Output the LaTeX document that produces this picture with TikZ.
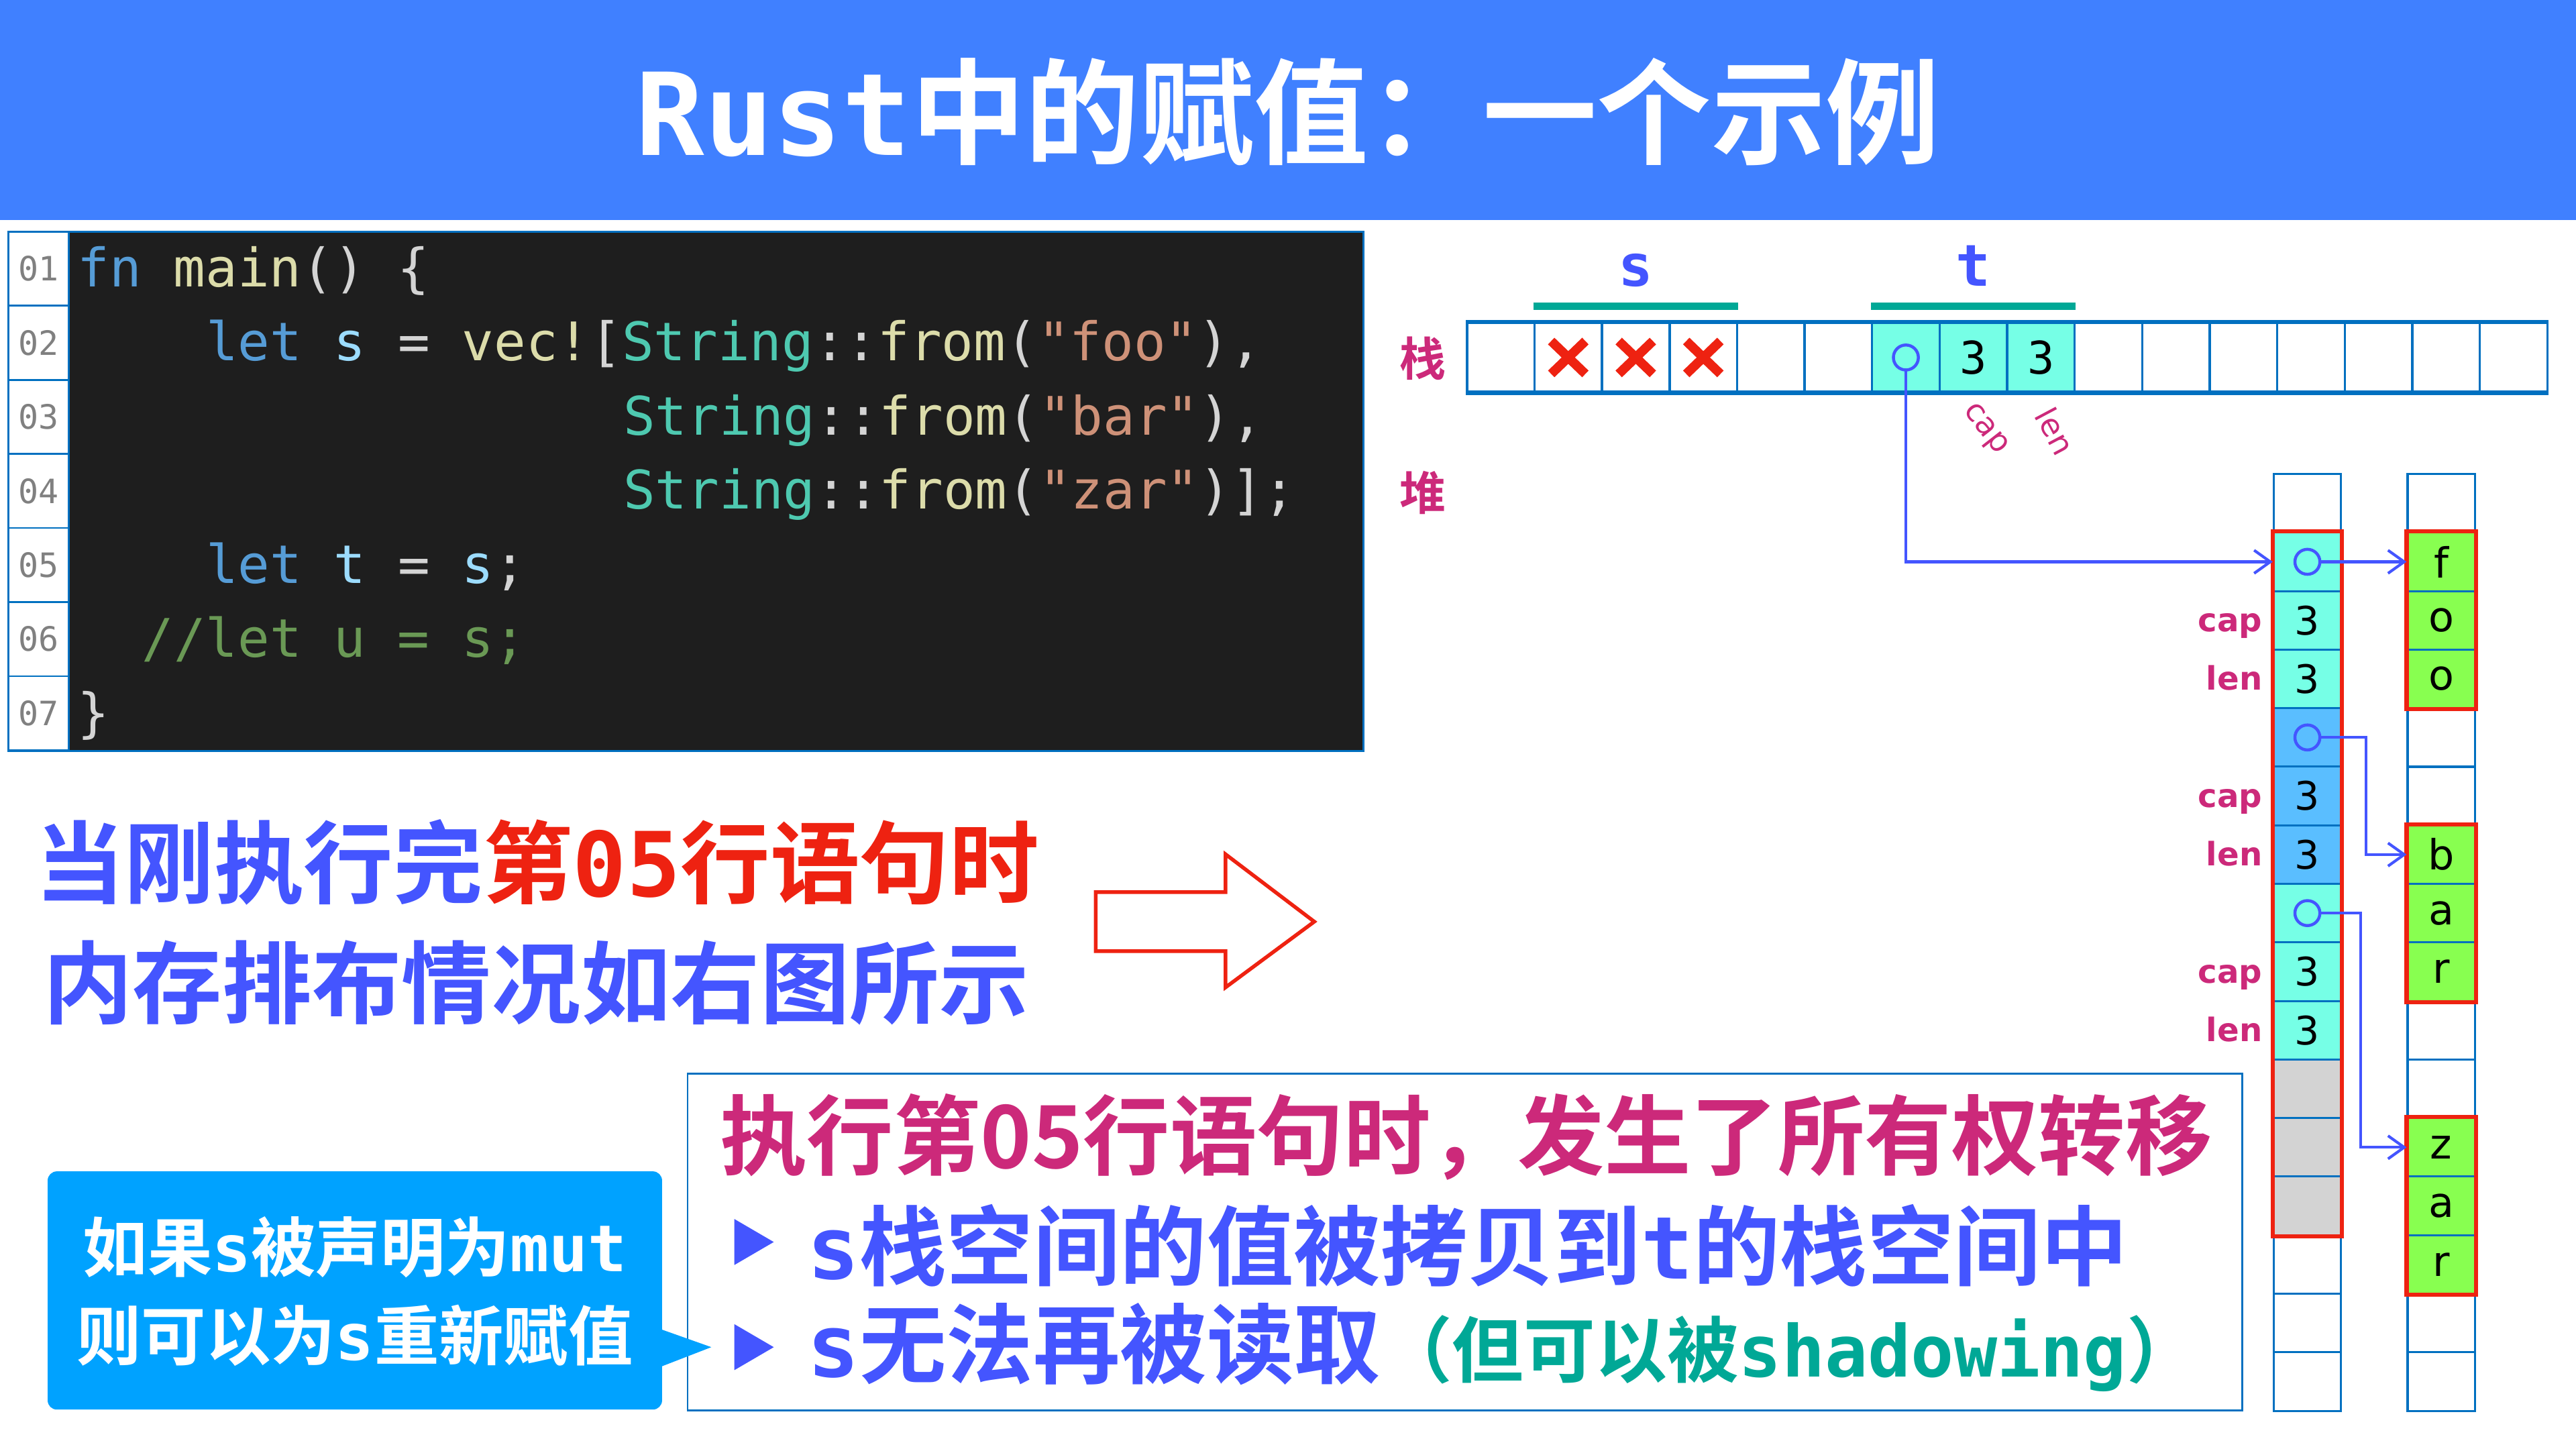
\documentclass[tikz,border=0pt]{standalone}
\usepackage{fontspec}
\usetikzlibrary{arrows.meta,positioning}

\newfontfamily\cjk{Noto Sans CJK SC}[BoldFont={Noto Sans CJK SC Bold}]
\newfontfamily\codefont{DejaVu Sans Mono}
\newfontfamily\cellfont{DejaVu Sans}

\definecolor{titlebar}{RGB}{64,128,255}
\definecolor{txtblue}{RGB}{68,85,255}
\definecolor{txtred}{RGB}{238,34,17}
\definecolor{txtmag}{RGB}{204,41,122}
\definecolor{txtteal}{RGB}{0,168,150}
\definecolor{calloutblue}{RGB}{0,162,255}
\definecolor{cellline}{RGB}{0,112,192}
\definecolor{cyancell}{RGB}{118,255,230}
\definecolor{bluecell}{RGB}{90,190,255}
\definecolor{greencell}{RGB}{136,255,80}
\definecolor{graycell}{RGB}{211,211,211}
\definecolor{codebg}{RGB}{30,30,30}
\definecolor{ckw}{RGB}{86,156,214}
\definecolor{cfn}{RGB}{220,220,170}
\definecolor{cvar}{RGB}{156,220,254}
\definecolor{ctype}{RGB}{78,201,176}
\definecolor{cstr}{RGB}{206,145,120}
\definecolor{cpun}{RGB}{212,212,212}
\definecolor{ccom}{RGB}{106,153,85}
\definecolor{lnum}{RGB}{128,128,128}

\newcommand*{\mb}[1]{{\codefont\bfseries #1}}

\begin{document}
\begin{tikzpicture}[x=0.025cm, y=-0.025cm,
	lnbox/.style={draw=cellline, line width=0.8pt, fill=white, minimum width=0.925cm, minimum height=1.1275cm, inner sep=0pt, text=lnum, font=\codefont\fontsize{14.5}{14.5}\selectfont},
	code/.style={anchor=base west, inner sep=0pt, font=\codefont\fontsize{23}{23}\selectfont},
	scell/.style={draw=cellline, line width=1pt, minimum width=1.028cm, minimum height=1.045cm, inner sep=0pt, font=\codefont\fontsize{19.5}{19.5}\selectfont},
	hcell/.style={draw=cellline, line width=0.9pt, minimum width=1.025cm, minimum height=0.891cm, inner sep=0pt, font=\cellfont\fontsize{18}{18}\selectfont},
	redframe/.style={draw=txtred, line width=1.8pt},
	ptr/.style={draw=txtblue, line width=1.2pt, -{Straight Barb[length=7pt,width=10pt]}},
	ptrc/.style={draw=txtblue, line width=1.3pt},
	xmark/.style={draw=txtred, line width=4pt},
	side/.style={text=txtmag, font=\cjk\bfseries\fontsize{20}{20}\selectfont, inner sep=0pt},
	varlab/.style={anchor=base, text=txtblue, inner sep=0pt, font=\codefont\bfseries\fontsize{25}{25}\selectfont},
	uline/.style={draw=txtteal, line width=3pt},
	rotlab/.style={text=txtmag, inner sep=0pt, font=\cellfont\fontsize{13.5}{13.5}\selectfont},
	sidelab/.style={anchor=base east, text=txtmag, inner sep=0pt, font=\cellfont\bfseries\fontsize{14}{14}\selectfont},
	bigtxt/.style={anchor=west, inner sep=0pt, font=\cjk\bfseries\fontsize{38.8}{40}\selectfont},
	boxtxt/.style={anchor=west, inner sep=0pt, text=txtblue, font=\cjk\bfseries\fontsize{37.6}{40}\selectfont},
	tiptxt/.style={text=white, inner sep=0pt, font=\cjk\bfseries\fontsize{28}{30}\selectfont}]
	\useasboundingbox (0,0) rectangle (1568,882);

	% title
	\fill[titlebar] (0,0) rectangle (1568,134);
	\node[text=white, inner sep=0pt, font=\cjk\bfseries\fontsize{49.5}{50}\selectfont] (title) at (784,68) {\mb{Rust}中的赋值：一个示例};

	% code panel
	\fill[codebg] (42,141) rectangle (830,457);
	\foreach \i in {1,...,7}{
	\node[lnbox] (ln\i) at (23.5,{141+45.1*(\i-0.5)}) {0\i};}
	\draw[cellline, line width=0.8pt] (5,141) rectangle (830,457);

	\node[code] (c1) at (47,174.5) {\textcolor{ckw}{fn} \textcolor{cfn}{main}\textcolor{cpun}{() \{}};
	\node[code] (c2) at ({47+19.54*4},219.6) {\textcolor{ckw}{let} \textcolor{cvar}{s} \textcolor{cpun}{=} \textcolor{cfn}{vec!}\textcolor{cpun}{[}\textcolor{ctype}{String}\textcolor{cpun}{::}\textcolor{cfn}{from}\textcolor{cpun}{(}\textcolor{cstr}{"foo"}\textcolor{cpun}{),}};
	\node[code] (c3) at ({47+19.54*17},264.7) {\textcolor{ctype}{String}\textcolor{cpun}{::}\textcolor{cfn}{from}\textcolor{cpun}{(}\textcolor{cstr}{"bar"}\textcolor{cpun}{),}};
	\node[code] (c4) at ({47+19.54*17},309.8) {\textcolor{ctype}{String}\textcolor{cpun}{::}\textcolor{cfn}{from}\textcolor{cpun}{(}\textcolor{cstr}{"zar"}\textcolor{cpun}{)];}};
	\node[code] (c5) at ({47+19.54*4},354.9) {\textcolor{ckw}{let} \textcolor{cvar}{t} \textcolor{cpun}{=} \textcolor{cvar}{s}\textcolor{cpun}{;}};
	\node[code] (c6) at ({47+19.54*2},400) {\textcolor{ccom}{//let u = s;}};
	\node[code] (c7) at (47,445.1) {\textcolor{cpun}{\}}};

	% stack row
	\node[side] (zhan) at (866,218) {栈};
	\node[side] (dui) at (866,300) {堆};
	\foreach \i in {0,...,15}{
	\node[scell] (st\i) at ({913.5+41.1*\i},217.6) {};}
	\foreach \i/\txt in {6/,7/3,8/3}{
	\node[scell, fill=cyancell] at (st\i) {\txt};}
	\draw[cellline, line width=1.6pt] (st0.north west) -- (st15.north east);
	\draw[cellline, line width=1.6pt] (st0.south west) -- (st15.south east);
	\foreach \i in {1,2,3}{
	\draw[xmark] ([shift={(-0.26cm,0.25cm)}]st\i.center) -- ([shift={(0.26cm,-0.25cm)}]st\i.center);
	\draw[xmark] ([shift={(-0.26cm,-0.25cm)}]st\i.center) -- ([shift={(0.26cm,0.25cm)}]st\i.center);}
	\draw[ptrc] (st6.center) circle (0.19cm);

	\node[varlab] (vs) at (st2.center |- 0,174) {s};
	\node[varlab] (vt) at (st7.center |- 0,174) {t};
	\draw[uline] ([yshift=0.24cm]st1.north west) -- ([yshift=0.24cm]st3.north east);
	\draw[uline] ([yshift=0.24cm]st6.north west) -- ([yshift=0.24cm]st8.north east);
	\node[rotlab, rotate=-52] (capt) at ([xshift=0.17cm,yshift=-0.56cm]st7.south) {cap};
	\node[rotlab, rotate=-62] (lent) at ([xshift=0.22cm,yshift=-0.58cm]st8.south) {len};

	% heap columns
	\foreach \i in {0,...,15}{
	\node[hcell] (ha\i) at (1404.5,{288.5+35.64*(\i+0.5)}) {};
	\node[hcell] (hb\i) at (1486,{288.5+35.64*(\i+0.5)}) {};}
	\foreach \i/\f in {1/cyancell,2/cyancell,3/cyancell,4/bluecell,5/bluecell,6/bluecell,7/cyancell,8/cyancell,9/cyancell,10/graycell,11/graycell,12/graycell}{
	\node[hcell, fill=\f] at (ha\i) {};}
	\foreach \i in {2,3,5,6,8,9}{
	\node[inner sep=0pt, font=\cellfont\fontsize{17}{17}\selectfont] at (ha\i) {3};}
	\foreach \i in {1,4,7}{
	\draw[ptrc] (ha\i.center) circle (0.19cm);}
	\foreach \i/\ch in {1/f,2/o,3/o,6/b,7/a,8/r,11/z,12/a,13/r}{
	\node[hcell, fill=greencell] at (hb\i) {\ch};}
	\draw[redframe] (ha1.north west) rectangle (ha12.south east);
	\foreach \a/\b in {1/3,6/8,11/13}{
	\draw[redframe] (hb\a.north west) rectangle (hb\b.south east);}
	\foreach \i/\txt in {2/cap,3/len,5/cap,6/len,8/cap,9/len}{
	\node[sidelab] at ([xshift=-0.15cm,yshift=-0.17cm]ha\i.west) {\txt};}

	% pointers
	\draw[ptr] ([yshift=-0.19cm]st6.center) |- (ha1.west);
	\draw[ptr] ([xshift=0.19cm]ha1.center) -- (hb1.west);
	\draw[ptr] ([xshift=0.19cm]ha4.center) -- ([xshift=0.36cm]ha4.east) |- (hb6.west);
	\draw[ptr] ([xshift=0.19cm]ha7.center) -- ([xshift=0.28cm]ha7.east) |- (hb11.west);

	% left text and hollow arrow
	\node[bigtxt] (say1) at (21,525) {\textcolor{txtblue}{当刚执行完}\textcolor{txtred}{第\mb{05}行语句时}};
	\node[bigtxt] (say2) at (26,598) {\textcolor{txtblue}{内存排布情况如右图所示}};
	\draw[txtred, line width=1.6pt, line join=miter] (667,543) -- (746,543) -- (746,520) -- (800,561) -- (746,601) -- (746,579) -- (667,579) -- cycle;

	% ownership box
	\node[draw=cellline, line width=0.8pt, anchor=north west, minimum width=23.65cm, minimum height=5.125cm, inner sep=0pt] (own) at (418,653) {};
	\node[boxtxt, text=txtmag] (own1) at (438,692) {执行第05行语句时，发生了所有权转移};
	\fill[txtblue] (447,742) -- (471,756) -- (447,770) -- cycle;
	\fill[txtblue] (447,806) -- (471,820) -- (447,834) -- cycle;
	\node[boxtxt] (own2) at (491,758) {\mb{s}栈空间的值被拷贝到\mb{t}的栈空间中};
	\node[boxtxt] (own3) at (491,820) {\mb{s}无法再被读取\textcolor{txtteal}{\fontsize{31}{31}\selectfont （但可以被\mb{shadowing}）}};

	% callout
	\fill[calloutblue, rounded corners=4pt] (29,713) rectangle (403,858);
	\fill[calloutblue] (402,809) -- (433,820) -- (402,832) -- cycle;
	\node[tiptxt] (tip1) at (216,759) {如果\mb{s}被声明为\mb{mut}};
	\node[tiptxt] (tip2) at (216,813) {则可以为\mb{s}重新赋值};

\end{tikzpicture}
\end{document}
